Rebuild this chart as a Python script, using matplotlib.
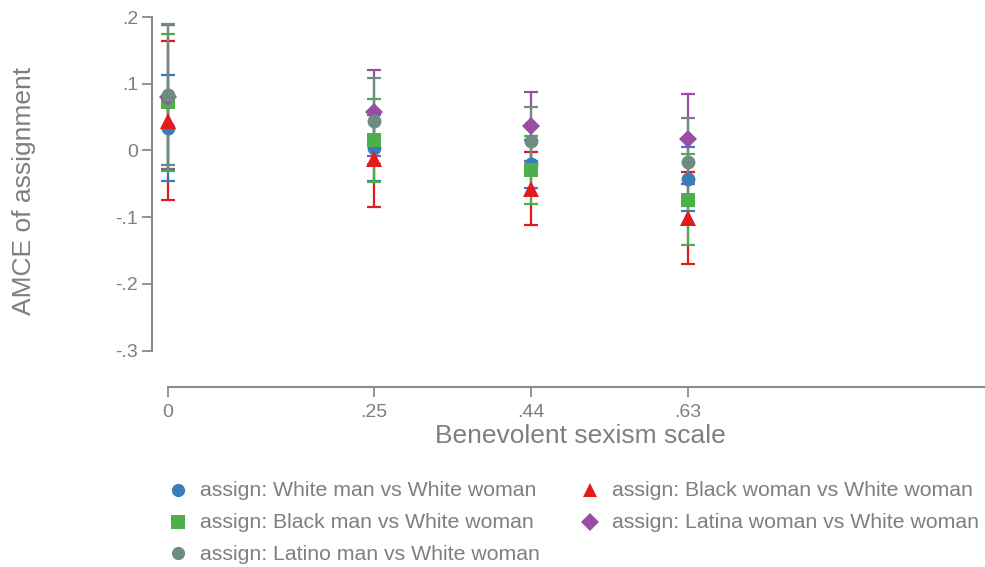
import matplotlib
matplotlib.use("Agg")
import matplotlib.pyplot as plt
import numpy as np

plt.rcParams["font.family"] = ["Liberation Sans", "DejaVu Sans"]

# Benevolent sexism scale values where margins are evaluated
scale_pts = np.array([0, 0.25, 0.44, 0.63])
tick_labels = ["0", ".25", ".44", ".63"]

# AMCE estimates with 95% CI (lower, upper) for each comparison
white_man_est = np.array([0.034, 0.004, -0.020, -0.042])
white_man_lo = np.array([-0.045, -0.045, -0.056, -0.090])
white_man_hi = np.array([0.113, 0.053, 0.016, 0.005])

black_man_est = np.array([0.072, 0.015, -0.029, -0.0745])
black_man_lo = np.array([-0.031, -0.047, -0.080, -0.1415])
black_man_hi = np.array([0.175, 0.077, 0.022, -0.006])

latino_man_est = np.array([0.0835, 0.044, 0.014, -0.0175])
latino_man_lo = np.array([-0.0225, -0.021, -0.037, -0.0835])
latino_man_hi = np.array([0.190, 0.109, 0.065, 0.0485])

black_woman_est = np.array([0.0445, -0.013, -0.0575, -0.101])
black_woman_lo = np.array([-0.074, -0.085, -0.112, -0.170])
black_woman_hi = np.array([0.164, 0.059, -0.002, -0.0315])

latina_woman_est = np.array([0.080, 0.057, 0.036, 0.017])
latina_woman_lo = np.array([-0.0275, -0.008, -0.016, -0.0495])
latina_woman_hi = np.array([0.1885, 0.121, 0.088, 0.0845])

labels = [
    "assign: White man vs White woman",
    "assign: Black man vs White woman",
    "assign: Latino man vs White woman",
    "assign: Black woman vs White woman",
    "assign: Latina woman vs White woman",
]

# (est, lo, hi, color, marker, size, ci zorder, marker zorder)
series = [
    (white_man_est, white_man_lo, white_man_hi, "#377eb8", "o", 10, 2, 6),
    (black_man_est, black_man_lo, black_man_hi, "#4daf4a", "s", 10.5, 4, 7),
    (latino_man_est, latino_man_lo, latino_man_hi, "#6e8b84", "o", 10, 5, 10),
    (black_woman_est, black_woman_lo, black_woman_hi, "#e41a1c", "^", 11, 1, 8),
    (latina_woman_est, latina_woman_lo, latina_woman_hi, "#984ea3", "D", 9.5, 3, 9),
]

gray = "#8a8a8a"
txt = "#7f7f7f"

fig = plt.figure(figsize=(9.85, 5.67), dpi=100)
ax = fig.add_axes([152 / 985, 1 - 387.4 / 567, 833 / 985, (387.4 - 14) / 567])

for est, lo, hi, col, mk, ms, zci, zmk in series:
    ax.errorbar(scale_pts, est, yerr=[est - lo, hi - est], fmt="none",
                ecolor=col, elinewidth=1.6, capsize=5, capthick=1.6, zorder=zci)
    ax.plot(scale_pts, est, linestyle="none", marker=mk, ms=ms,
            color=col, markeredgewidth=0, zorder=zmk)

ax.set_xlim(-0.0194, 0.9903)
ax.set_ylim(-0.355, 0.2045)

for s in ["top", "right"]:
    ax.spines[s].set_visible(False)
for s in ["left", "bottom"]:
    ax.spines[s].set_color(gray)
    ax.spines[s].set_linewidth(1.5)
ax.spines["left"].set_bounds(-0.3, 0.2)
ax.spines["bottom"].set_bounds(0, 0.9903)

ax.set_xticks(scale_pts)
ax.set_xticklabels(tick_labels)
ax.set_yticks([0.2, 0.1, 0, -0.1, -0.2, -0.3])
ax.set_yticklabels([".2", ".1", "0", "-.1", "-.2", "-.3"])
ax.tick_params(axis="both", colors=gray, labelcolor=txt, labelsize=14,
               length=7, width=1.3)
ax.tick_params(axis="x", pad=5)
ax.tick_params(axis="y", pad=3)

fig.text(24 / 985, 1 - 191 / 567, "AMCE of assignment", rotation=90,
         ha="center", va="center", fontsize=19, color=txt)
fig.text(580 / 985, 1 - 436 / 567, "Benevolent sexism scale",
         ha="center", va="center", fontsize=19, color=txt)

# legend laid out in two columns (three entries, then two) in pixel coords
lax = fig.add_axes([0, 0, 1, 1])
lax.set_xlim(0, 985)
lax.set_ylim(567, 0)
lax.axis("off")
key_x = [178, 178, 178, 590, 590]
key_y = [490, 522, 553, 490, 522]
for (est, lo, hi, col, mk, ms, zci, zmk), lab, kx, ky in zip(series, labels, key_x, key_y):
    lax.plot([kx], [ky], linestyle="none", marker=mk, ms=ms * 0.95,
             color=col, markeredgewidth=0)
    lax.text(kx + 22, ky + 1, lab, ha="left", va="center", fontsize=15.3, color=txt)

fig.savefig("out.png", dpi=100)
